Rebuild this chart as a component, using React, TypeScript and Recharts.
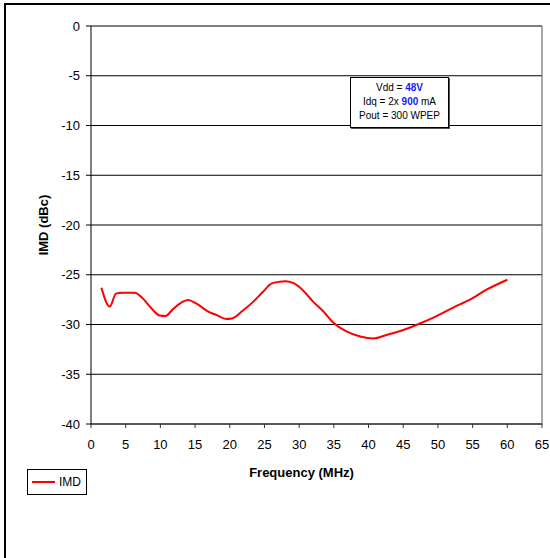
import { LineChart, Line, XAxis, YAxis, CartesianGrid, ReferenceLine } from 'recharts';

// values
const freq = [1.5, 2.7, 3.6, 4.5, 6.3, 7.5, 8.5, 9.9, 10.7, 11.9, 12.8, 14.0, 15.2, 16.9, 18.1, 19.5, 20.3, 21.9, 23.4, 24.8, 26.0, 27.2, 28.0, 29.2, 30.6, 32.0, 33.5, 34.9, 36.8, 38.8, 40.7, 42.6, 45.0, 47.4, 49.8, 52.2, 54.6, 57.0, 60.0];
const imd = [-26.3, -28.2, -26.9, -26.8, -26.8, -27.4, -28.2, -29.1, -29.15, -28.4, -27.9, -27.55, -27.9, -28.7, -29.05, -29.45, -29.4, -28.6, -27.7, -26.7, -25.9, -25.7, -25.65, -25.85, -26.6, -27.7, -28.7, -29.8, -30.7, -31.2, -31.4, -31.05, -30.55, -29.9, -29.15, -28.3, -27.5, -26.5, -25.5];
const xTicks = [0, 5, 10, 15, 20, 25, 30, 35, 40, 45, 50, 55, 60, 65];
const yTicks = [0, -5, -10, -15, -20, -25, -30, -35, -40];

const data = freq.map((f, i) => ({ freq: f, imd: imd[i] }));

const font = 'Arial, "Liberation Sans", sans-serif';
const blue = '#1a1aff';

const App = () => {
  return (
    <div style={{ position: 'fixed', left: 0, top: 0, width: 550, height: 558, overflow: 'hidden', background: '#fff', fontFamily: font }}>
      {/* outer frame */}
      <div style={{ position: 'absolute', left: 4, top: 3, width: 600, height: 600, borderLeft: '2px solid #000', borderTop: '2px solid #000' }} />

      <div style={{ position: 'absolute', left: 0, top: 0 }}>
        <LineChart width={550} height={558} data={data} margin={{ top: 26, right: 8, left: 0, bottom: 74 }}>
          <CartesianGrid vertical={false} stroke="#000" strokeWidth={1} />
          <XAxis
            dataKey="freq"
            type="number"
            domain={[0, 65]}
            ticks={xTicks}
            interval={0}
            height={60}
            tickSize={4}
            tickMargin={12}
            stroke="#333"
            tick={{ fill: '#000', fontSize: 13, fontFamily: font }}
            label={{ value: 'Frequency (MHz)', position: 'insideBottom', offset: 7, dx: -15, fill: '#000', fontSize: 13, fontWeight: 'bold', fontFamily: font }}
          />
          <YAxis
            type="number"
            domain={[-40, 0]}
            ticks={yTicks}
            interval={0}
            width={91}
            tickSize={5}
            tickMargin={6}
            stroke="#000"
            tick={{ fill: '#000', fontSize: 13, fontFamily: font }}
            label={{ value: 'IMD (dBc)', angle: -90, position: 'insideLeft', offset: 43, fill: '#000', fontSize: 13, fontWeight: 'bold', fontFamily: font, style: { textAnchor: 'middle' } }}
          />
          <ReferenceLine x={65} stroke="#555" />
          <Line type="monotone" dataKey="imd" stroke="#ff0000" strokeWidth={2} dot={false} isAnimationActive={false} />
        </LineChart>
      </div>

      {/* annotation box */}
      <div style={{ position: 'absolute', left: 350, top: 77, width: 97, height: 46, border: '1px solid #000', boxShadow: '1px 1px 0 #555', background: '#fff', fontSize: 10, lineHeight: '14px', textAlign: 'center', paddingTop: 3, boxSizing: 'content-box' }}>
        <div>Vdd = <b style={{ color: blue }}>48V</b></div>
        <div>Idq = 2x <b style={{ color: blue }}>900</b> mA</div>
        <div>Pout = 300 WPEP</div>
      </div>

      {/* legend */}
      <div style={{ position: 'absolute', left: 27, top: 469, width: 58, height: 24, border: '1px solid #000', background: '#fff' }}>
        <div style={{ position: 'absolute', left: 4, top: 11, width: 23, height: 2, background: '#ff0000' }} />
        <span style={{ position: 'absolute', left: 31, top: 5, fontSize: 12, lineHeight: '14px' }}>IMD</span>
      </div>
    </div>
  );
};

export default App;
